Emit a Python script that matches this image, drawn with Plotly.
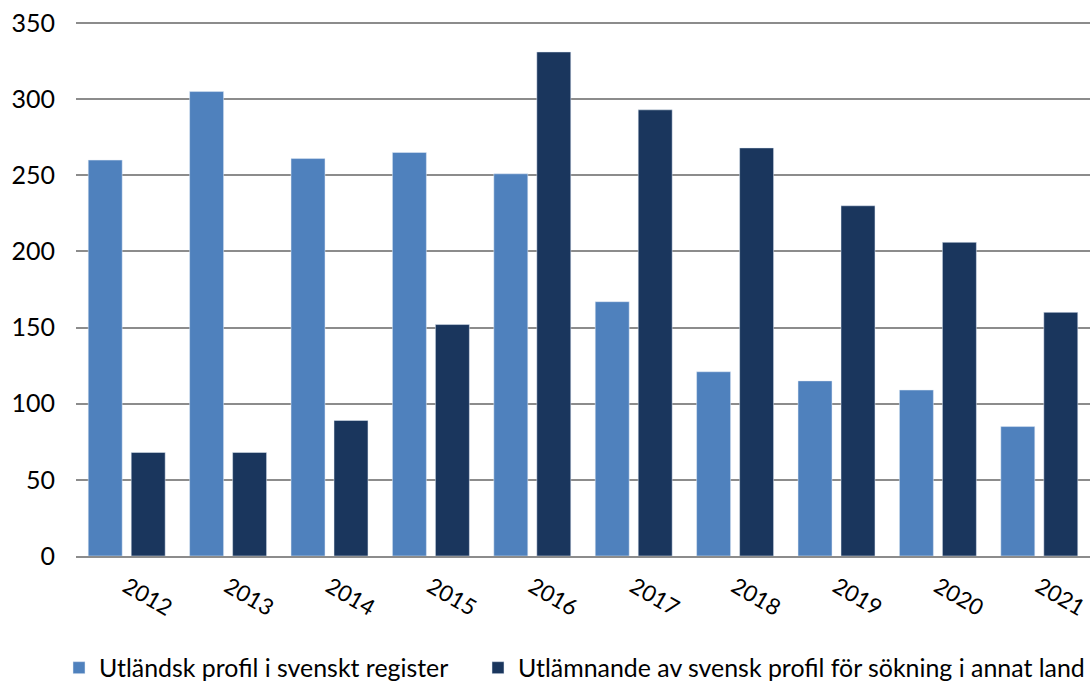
import plotly.graph_objects as go

years = ["2012", "2013", "2014", "2015", "2016", "2017", "2018", "2019", "2020", "2021"]
foreign_profile = [260, 305, 261, 265, 251, 167, 121, 115, 109, 85]
swedish_profile_out = [68, 68, 89, 152, 331, 293, 268, 230, 206, 160]

series_names = ["Utländsk profil i svenskt register",
                "Utlämnande av svensk profil för sökning i annat land"]
y_ticks = [0, 50, 100, 150, 200, 250, 300, 350]

fig = go.Figure()
fig.add_trace(go.Bar(x=years, y=foreign_profile, name=series_names[0],
                     marker=dict(color="#4F81BD"), legend="legend"))
fig.add_trace(go.Bar(x=years, y=swedish_profile_out, name=series_names[1],
                     marker=dict(color="#1A365D"), legend="legend2"))

leg_common = dict(orientation="h", xref="container", yref="container",
                  xanchor="left", yanchor="middle", y=0.0234,
                  font=dict(size=24.9), bgcolor="rgba(0,0,0,0)")

fig.update_layout(
    width=1091, height=684,
    margin=dict(l=76, r=1, t=20, b=128, autoexpand=False),
    paper_bgcolor="white", plot_bgcolor="white",
    barmode="group", bargap=0.152, bargroupgap=0.21,
    font=dict(family="Lato, Open Sans, sans-serif", size=24, color="#000000"),
    showlegend=True,
    legend=dict(x=59 / 1091, **leg_common),
    legend2=dict(x=478 / 1091, **leg_common),
    xaxis=dict(type="category", tickangle=30, showgrid=False, ticks="",
               showline=True, linecolor="#8C8C8C", linewidth=2, automargin=False,
               ticklabelstandoff=7, tickfont=dict(size=22.5)),
    yaxis=dict(range=[0, 352], tickvals=y_ticks, showgrid=True, gridcolor="#8C8C8C",
               gridwidth=1.5, zeroline=False, ticks="", ticklabelstandoff=20,
               automargin=False, tickfont=dict(size=25)),
)

fig.write_html("out.html", config={"displayModeBar": False},
               post_script="document.body.style.margin='0';document.body.style.overflow='hidden';")
